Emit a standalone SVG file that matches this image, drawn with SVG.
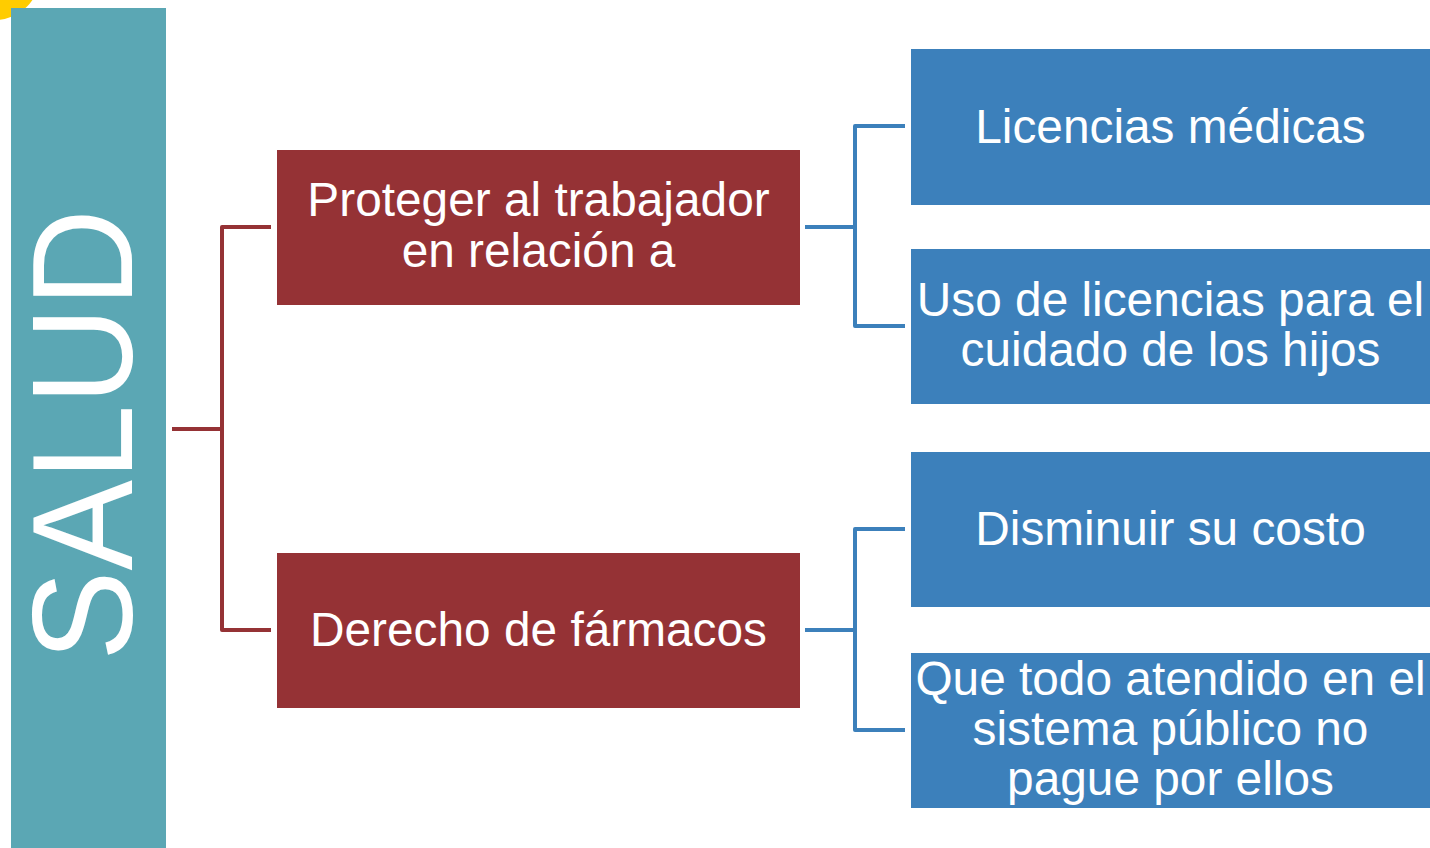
<svg xmlns="http://www.w3.org/2000/svg" width="1430" height="848" viewBox="0 0 1430 848">
<style>
.t{font-family:"Liberation Sans",Arial,sans-serif;font-size:47.8px;fill:#fff;text-anchor:middle}
.red{fill:#953235}
.blue{fill:#3C80BB}
.cr{fill:none;stroke:#953235;stroke-width:4;stroke-linejoin:round}
.cb{fill:none;stroke:#3C80BB;stroke-width:4;stroke-linejoin:round}
</style>
<rect width="1430" height="848" fill="#fff"/>
<circle cx="-5" cy="-25" r="45" fill="#FFCC00"/>
<g id="salud">
<rect x="11" y="8" width="155" height="840" fill="#5BA7B4"/>
<text transform="translate(132,435) rotate(-90)" x="0" y="0" style="font-family:'Liberation Sans',Arial,sans-serif;font-size:143px;fill:#fff;text-anchor:middle" textLength="452" lengthAdjust="spacingAndGlyphs">SALUD</text>
</g>
<g id="connectors">
<path class="cr" d="M172 429 H222 M271 227 H222 V630 H271"/>
<path class="cb" d="M805 227 H855 M905 126 H855 V326 H905"/>
<path class="cb" d="M805 630 H855 M905 529 H855 V730 H905"/>
</g>
<g id="n-proteger">
<rect class="red" x="277" y="150" width="523" height="155"/>
<text class="t" x="538.5" y="216">Proteger al trabajador</text>
<text class="t" x="538.5" y="267">en relación a</text>
</g>
<g id="n-farmacos">
<rect class="red" x="277" y="553" width="523" height="155"/>
<text class="t" x="538.5" y="646">Derecho de fármacos</text>
</g>
<g id="n-licencias">
<rect class="blue" x="911" y="49" width="519" height="156"/>
<text class="t" x="1170.5" y="143">Licencias médicas</text>
</g>
<g id="n-hijos">
<rect class="blue" x="911" y="249" width="519" height="155"/>
<text class="t" x="1170.5" y="316">Uso de licencias para el</text>
<text class="t" x="1170.5" y="366">cuidado de los hijos</text>
</g>
<g id="n-costo">
<rect class="blue" x="911" y="452" width="519" height="155"/>
<text class="t" x="1170.5" y="545">Disminuir su costo</text>
</g>
<g id="n-publico">
<rect class="blue" x="911" y="653" width="519" height="155"/>
<text class="t" x="1170.5" y="695">Que todo atendido en el</text>
<text class="t" x="1170.5" y="745">sistema público no</text>
<text class="t" x="1170.5" y="795">pague por ellos</text>
</g>
</svg>
